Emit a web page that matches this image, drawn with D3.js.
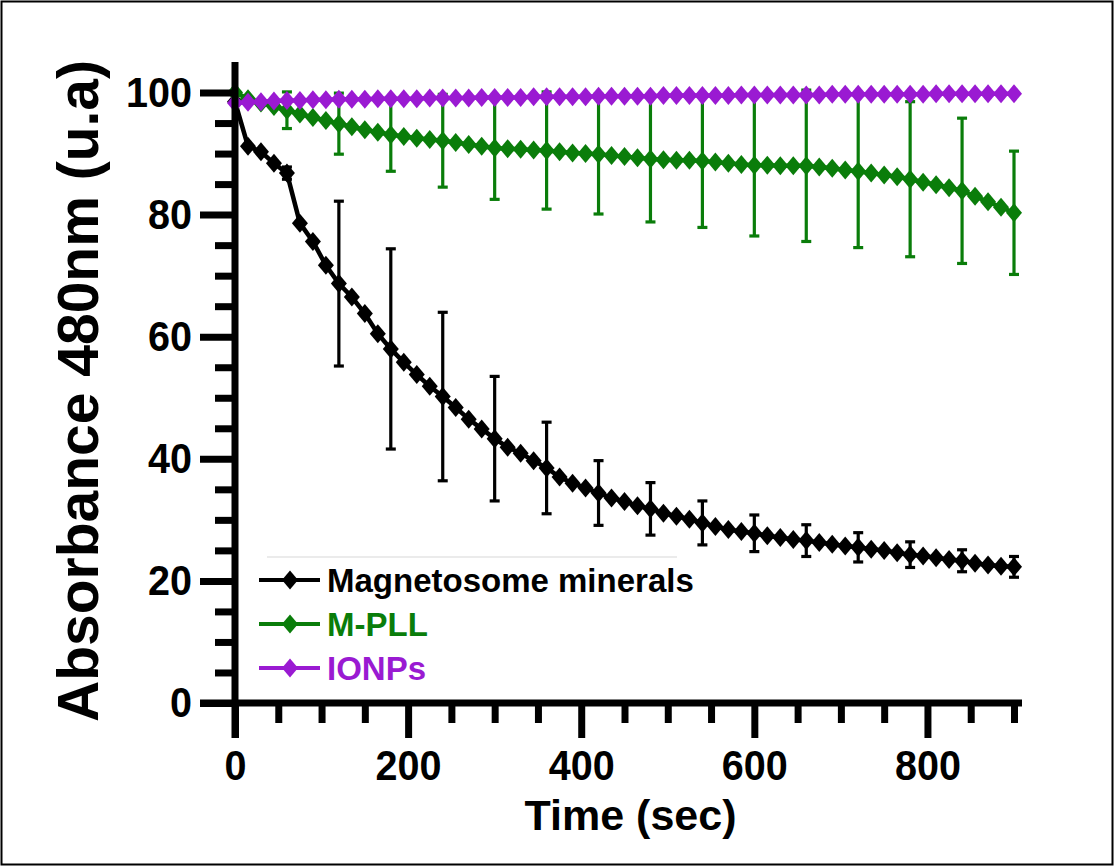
<!DOCTYPE html>
<html>
<head>
<meta charset="utf-8">
<script src="https://cdn.jsdelivr.net/npm/d3@7"></script>
<style>
  body { margin: 0; background: #fff; }
  svg { display: block; font-family: "Liberation Sans", Arial, sans-serif; font-weight: bold; }
</style>
</head>
<body>
<div id="chart"></div>
<script>
// sampling times (sec)
var times = [
  0, 15, 30, 45, 60, 75, 90, 105, 120, 135,
  150, 165, 180, 195, 210, 225, 240, 255, 270, 285,
  300, 315, 330, 345, 360, 375, 390, 405, 420, 435,
  450, 465, 480, 495, 510, 525, 540, 555, 570, 585,
  600, 615, 630, 645, 660, 675, 690, 705, 720, 735,
  750, 765, 780, 795, 810, 825, 840, 855, 870, 885,
  900
];

var magnetosome = [
  98.5, 91.2, 90.3, 88.4, 86.8, 78.6, 75.6, 71.7, 68.7, 66.5,
  63.8, 60.5, 58.0, 55.8, 53.8, 51.9, 50.2, 48.4, 46.5, 44.9,
  43.3, 41.9, 40.9, 39.7, 38.5, 37.0, 36.0, 35.2, 34.4, 33.6,
  33.0, 32.3, 31.8, 31.1, 30.6, 30.1, 29.5, 28.9, 28.4, 28.1,
  27.8, 27.4, 27.1, 26.8, 26.6, 26.3, 26.0, 25.7, 25.5, 25.2,
  25.0, 24.6, 24.3, 24.1, 23.8, 23.5, 23.3, 22.9, 22.6, 22.4,
  22.3
];

var mpll = [
  100.0, 99.0, 98.3, 97.7, 97.1, 96.5, 95.9, 95.4, 94.9, 94.4,
  93.9, 93.5, 93.1, 92.8, 92.5, 92.3, 92.1, 91.8, 91.5, 91.2,
  90.9, 90.8, 90.7, 90.6, 90.5, 90.3, 90.1, 90.0, 89.9, 89.7,
  89.5, 89.3, 89.1, 89.0, 88.9, 88.9, 88.8, 88.6, 88.4, 88.2,
  88.1, 88.1, 88.0, 88.0, 88.0, 87.8, 87.6, 87.3, 87.1, 86.8,
  86.5, 86.2, 85.8, 85.3, 84.9, 84.4, 83.9, 83.0, 82.1, 81.2,
  80.3
];

var ionps = [
  98.3, 98.4, 98.5, 98.6, 98.7, 98.7, 98.8, 98.8, 98.9, 98.9,
  98.9, 99.0, 99.0, 99.0, 99.0, 99.1, 99.1, 99.1, 99.1, 99.2,
  99.2, 99.2, 99.2, 99.3, 99.3, 99.3, 99.3, 99.3, 99.4, 99.4,
  99.4, 99.4, 99.4, 99.5, 99.5, 99.5, 99.5, 99.5, 99.5, 99.6,
  99.6, 99.6, 99.6, 99.6, 99.6, 99.6, 99.7, 99.7, 99.7, 99.7,
  99.7, 99.7, 99.7, 99.7, 99.8, 99.8, 99.8, 99.8, 99.8, 99.8,
  99.8
];

// error bars (SD) every 60 sec
var errTimes = [60, 120, 180, 240, 300, 360, 420, 480, 540, 600, 660, 720, 780, 840, 900];
var magnetosomeSd = [1.0, 13.5, 16.4, 13.8, 10.2, 7.5, 5.3, 4.3, 3.6, 3.0, 2.6, 2.4, 2.1, 1.8, 1.7];
var mpllSd = [3.0, 5.0, 6.0, 7.6, 8.4, 9.6, 9.8, 10.3, 10.9, 11.6, 12.4, 12.5, 12.7, 11.9, 10.1];
var ionpsSd = [0.2, 0.2, 0.2, 0.2, 0.2, 0.2, 0.2, 0.2, 0.2, 0.2, 0.2, 0.2, 0.2, 0.2, 0.2];

var seriesNames = ["Magnetosome minerals", "M-PLL", "IONPs"];
var seriesColors = ["#000000", "#0a7d0a", "#9a1ad2"];

var xMajorTicks = [0, 200, 400, 600, 800];
var xMinorTicks = [50, 100, 150, 250, 300, 350, 450, 500, 550, 650, 700, 750, 850, 900];
var yMajorTicks = [0, 20, 40, 60, 80, 100];
var yMinorTicks = [5, 10, 15, 25, 30, 35, 45, 50, 55, 65, 70, 75, 85, 90, 95];

var xTitle = "Time (sec)";
var yTitle = "Absorbance 480nm (u.a)";

var WIDTH = 1115, HEIGHT = 867;
var AXIS_W = 7;
var MAJOR = 35, MINOR = 20;
var MARK_W = 16, MARK_H = 19;

var svg = d3.select("#chart")
  .append("svg")
  .attr("width", WIDTH)
  .attr("height", HEIGHT);

svg.append("rect")
  .attr("x", 1.5).attr("y", 1.5)
  .attr("width", WIDTH - 4).attr("height", HEIGHT - 4)
  .attr("fill", "#fff")
  .attr("stroke", "#000")
  .attr("stroke-width", 2);

var x = d3.scaleLinear().domain([0, 900]).range([235, 1014]);
var y = d3.scaleLinear().domain([0, 105]).range([703, 62]);

// diamond marker
function diamond(w, h) {
  return "M0," + (-h / 2) + "L" + (w / 2) + ",0L0," + (h / 2) + "L" + (-w / 2) + ",0Z";
}

var series = [
  {name: seriesNames[0], color: seriesColors[0], values: magnetosome, sd: magnetosomeSd},
  {name: seriesNames[1], color: seriesColors[1], values: mpll, sd: mpllSd},
  {name: seriesNames[2], color: seriesColors[2], values: ionps, sd: ionpsSd}
];

var line = d3.line()
  .x(function(d) { return x(d.t); })
  .y(function(d) { return y(d.v); });

var plot = svg.append("g").attr("class", "plot");

series.forEach(function(s) {
  var pts = times.map(function(t, i) { return {t: t, v: s.values[i]}; });
  var errs = errTimes.map(function(t, i) {
    return {t: t, v: s.values[times.indexOf(t)], sd: s.sd[i]};
  });

  var g = plot.append("g");

  var eb = g.selectAll(".err")
    .data(errs)
    .enter().append("g")
    .attr("class", "err")
    .attr("stroke", s.color)
    .attr("stroke-width", 3.2);
  eb.append("line")
    .attr("x1", function(d) { return x(d.t); })
    .attr("x2", function(d) { return x(d.t); })
    .attr("y1", function(d) { return y(d.v + d.sd); })
    .attr("y2", function(d) { return y(d.v - d.sd); });
  eb.append("line")
    .attr("x1", function(d) { return x(d.t) - 5; })
    .attr("x2", function(d) { return x(d.t) + 5; })
    .attr("y1", function(d) { return y(d.v + d.sd); })
    .attr("y2", function(d) { return y(d.v + d.sd); });
  eb.append("line")
    .attr("x1", function(d) { return x(d.t) - 5; })
    .attr("x2", function(d) { return x(d.t) + 5; })
    .attr("y1", function(d) { return y(d.v - d.sd); })
    .attr("y2", function(d) { return y(d.v - d.sd); });

  g.append("path")
    .datum(pts)
    .attr("fill", "none")
    .attr("stroke", s.color)
    .attr("stroke-width", 4.5)
    .attr("d", line);

  g.selectAll(".pt")
    .data(pts)
    .enter().append("path")
    .attr("class", "pt")
    .attr("d", diamond(MARK_W, MARK_H))
    .attr("fill", s.color)
    .attr("transform", function(d) { return "translate(" + x(d.t) + "," + y(d.v) + ")"; });
});

// axes
function styleAxis(g) {
  g.select(".domain").remove();
  g.selectAll(".tick line").attr("stroke", "#000").attr("stroke-width", AXIS_W);
}

var xMinorAxis = svg.append("g")
  .attr("transform", "translate(0," + y(0) + ")")
  .call(d3.axisBottom(x).tickValues(xMinorTicks).tickSize(MINOR).tickFormat(""));
styleAxis(xMinorAxis);

var xAxis = svg.append("g")
  .attr("transform", "translate(0," + y(0) + ")")
  .call(d3.axisBottom(x).tickValues(xMajorTicks).tickSize(MAJOR).tickPadding(11).tickFormat(d3.format("d")));
styleAxis(xAxis);
xAxis.selectAll("text")
  .attr("fill", "#000")
  .style("font-size", "43px")
  .attr("transform", "scale(0.92,1)");

var yMinorAxis = svg.append("g")
  .attr("transform", "translate(" + x(0) + ",0)")
  .call(d3.axisLeft(y).tickValues(yMinorTicks).tickSize(MINOR).tickFormat(""));
styleAxis(yMinorAxis);

var yAxis = svg.append("g")
  .attr("transform", "translate(" + x(0) + ",0)")
  .call(d3.axisLeft(y).tickValues(yMajorTicks).tickSize(MAJOR).tickPadding(8).tickFormat(d3.format("d")));
styleAxis(yAxis);
yAxis.selectAll("text")
  .attr("fill", "#000")
  .style("font-size", "43px")
  .attr("x", -(MAJOR + 8) / 0.92)
  .attr("transform", "scale(0.92,1)");

// axis lines
svg.append("line")
  .attr("x1", x(0) - MAJOR).attr("x2", x(900) + 8)
  .attr("y1", y(0)).attr("y2", y(0))
  .attr("stroke", "#000").attr("stroke-width", AXIS_W);
svg.append("line")
  .attr("x1", x(0)).attr("x2", x(0))
  .attr("y1", y(0) + MAJOR).attr("y2", y(105))
  .attr("stroke", "#000").attr("stroke-width", AXIS_W);

// titles
svg.append("text")
  .attr("x", (x(0) + x(900)) / 2 + 6)
  .attr("y", 830)
  .attr("text-anchor", "middle")
  .style("font-size", "43px")
  .text(xTitle);

svg.append("text")
  .attr("transform", "translate(98," + 391 + ") rotate(-90)")
  .attr("text-anchor", "middle")
  .style("font-size", "57px")
  .text(yTitle);

// legend
var legend = svg.append("g").attr("class", "legend");
legend.append("line")
  .attr("x1", 267).attr("x2", 677)
  .attr("y1", 557).attr("y2", 557)
  .attr("stroke", "#e4e4e4").attr("stroke-width", 1.5);

var item = legend.selectAll(".item")
  .data(series)
  .enter().append("g")
  .attr("class", "item")
  .attr("transform", function(d, i) { return "translate(0," + (580 + i * 44) + ")"; });
item.append("line")
  .attr("x1", 259).attr("x2", 320)
  .attr("stroke", function(d) { return d.color; })
  .attr("stroke-width", 4);
item.append("path")
  .attr("d", diamond(MARK_W, MARK_H))
  .attr("transform", "translate(290,0)")
  .attr("fill", function(d) { return d.color; });
item.append("text")
  .attr("x", 327)
  .attr("y", 12)
  .style("font-size", "33px")
  .attr("fill", function(d) { return d.color; })
  .text(function(d) { return d.name; });
</script>
</body>
</html>
